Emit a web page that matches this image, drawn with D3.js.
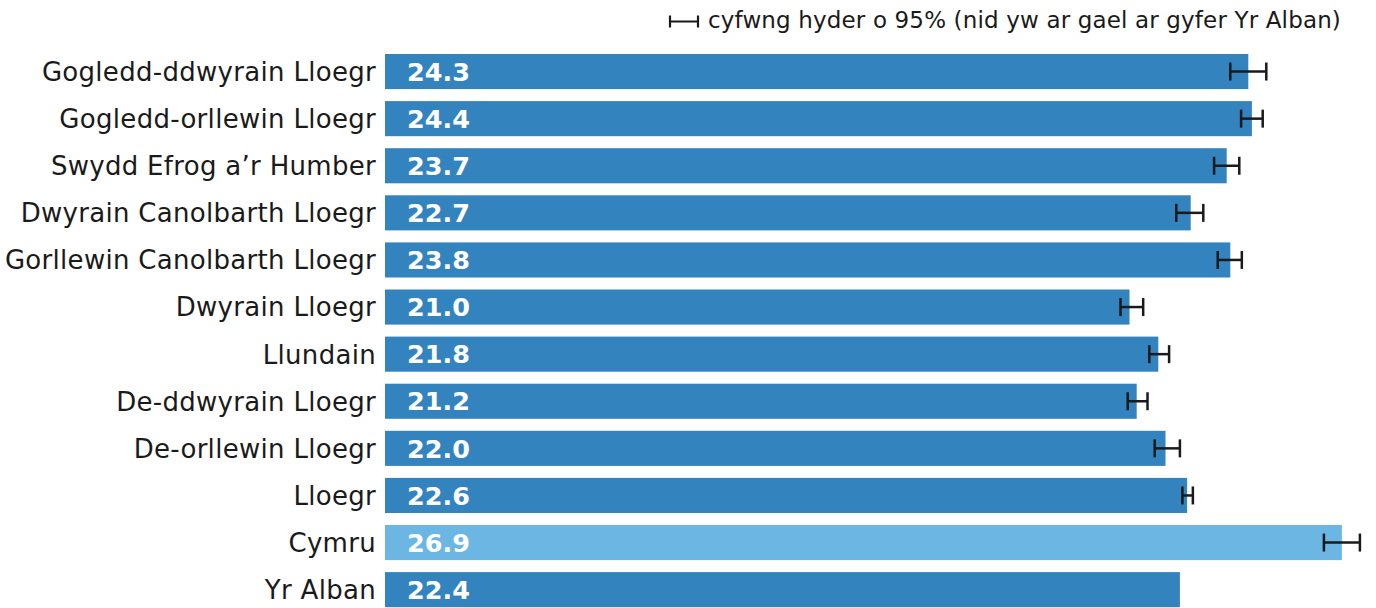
<!DOCTYPE html>
<html>
<head>
<meta charset="utf-8">
<script src="https://cdn.jsdelivr.net/npm/d3@7"></script>
<style>
  html, body { margin: 0; padding: 0; background: #fff; }
  svg { display: block; font-family: "DejaVu Sans", Verdana, sans-serif; }
</style>
</head>
<body>
<svg id="chart" width="1376" height="608"></svg>
<script>
// regions, top to bottom
const regions = [
    'Gogledd-ddwyrain Lloegr',
    'Gogledd-orllewin Lloegr',
    'Swydd Efrog a\u2019r Humber',
    'Dwyrain Canolbarth Lloegr',
    'Gorllewin Canolbarth Lloegr',
    'Dwyrain Lloegr',
    'Llundain',
    'De-ddwyrain Lloegr',
    'De-orllewin Lloegr',
    'Lloegr',
    'Cymru',
    'Yr Alban'
];
const values = [24.3, 24.4, 23.7, 22.7, 23.8, 21.0, 21.8, 21.2, 22.0, 22.6, 26.9, 22.4];
// 95% confidence interval (none for Yr Alban)
const ciLow  = [23.8, 24.1, 23.35, 22.3, 23.45, 20.75, 21.55, 20.95, 21.7, 22.47, 26.4, null];
const ciHigh = [24.8, 24.7, 24.05, 23.05, 24.12, 21.38, 22.1, 21.5, 22.4, 22.76, 27.4, null];
const highlight = 'Cymru';
const legendText = 'cyfwng hyder o 95% (nid yw ar gael ar gyfer Yr Alban)';

const data = regions.map((r, i) => ({
    region: r, value: values[i], lo: ciLow[i], hi: ciHigh[i]
}));

const svg = d3.select('#chart');
const plotLeft = 385;

const x = d3.scaleLinear().domain([0, 27]).range([373.5, 1345.5]);
const y = d3.scaleBand()
    .domain(regions)
    .range([48, 48 + 12 * 47.1])
    .paddingInner(0.255)
    .paddingOuter(0.1275);

// bars
svg.append('g')
    .selectAll('rect')
    .data(data)
    .join('rect')
    .attr('x', plotLeft)
    .attr('y', d => y(d.region))
    .attr('width', d => x(d.value) - plotLeft)
    .attr('height', y.bandwidth())
    .attr('fill', d => d.region === highlight ? '#6cb6e3' : '#3383bf');

// value labels
svg.append('g')
    .selectAll('text')
    .data(data)
    .join('text')
    .attr('x', plotLeft + 22)
    .attr('y', d => y(d.region) + y.bandwidth() / 2)
    .attr('dy', '0.36em')
    .attr('fill', '#fff')
    .style('font-weight', 'bold')
    .style('font-size', '25.5px')
    .text(d => d.value.toFixed(1));

// category labels
svg.append('g')
    .selectAll('text')
    .data(data)
    .join('text')
    .attr('x', plotLeft - 9)
    .attr('y', d => y(d.region) + y.bandwidth() / 2)
    .attr('dy', '0.36em')
    .attr('text-anchor', 'end')
    .attr('fill', '#1a1a1a')
    .style('font-size', '26px')
    .style('letter-spacing', '0.3px')
    .text(d => d.region);

// error bars
const err = svg.append('g')
    .selectAll('g')
    .data(data.filter(d => d.lo != null))
    .join('g')
    .attr('stroke', '#1a1a1a')
    .attr('stroke-width', 2.5);

const cap = 9;
err.append('line')
    .attr('x1', d => x(d.lo)).attr('x2', d => x(d.hi))
    .attr('y1', d => y(d.region) + y.bandwidth() / 2)
    .attr('y2', d => y(d.region) + y.bandwidth() / 2);
err.append('line')
    .attr('x1', d => x(d.lo)).attr('x2', d => x(d.lo))
    .attr('y1', d => y(d.region) + y.bandwidth() / 2 - cap)
    .attr('y2', d => y(d.region) + y.bandwidth() / 2 + cap);
err.append('line')
    .attr('x1', d => x(d.hi)).attr('x2', d => x(d.hi))
    .attr('y1', d => y(d.region) + y.bandwidth() / 2 - cap)
    .attr('y2', d => y(d.region) + y.bandwidth() / 2 + cap);

// legend
const legend = svg.append('g').attr('transform', 'translate(669,21.5)');
legend.append('path')
    .attr('d', 'M1,-6V6M1,0H29M29,-6V6')
    .attr('stroke', '#1a1a1a')
    .attr('stroke-width', 2.2)
    .attr('fill', 'none');
legend.append('text')
    .attr('x', 39)
    .attr('y', 6.5)
    .attr('fill', '#1a1a1a')
    .style('font-size', '23px')
    .style('letter-spacing', '0.15px')
    .text(legendText);
</script>
</body>
</html>
